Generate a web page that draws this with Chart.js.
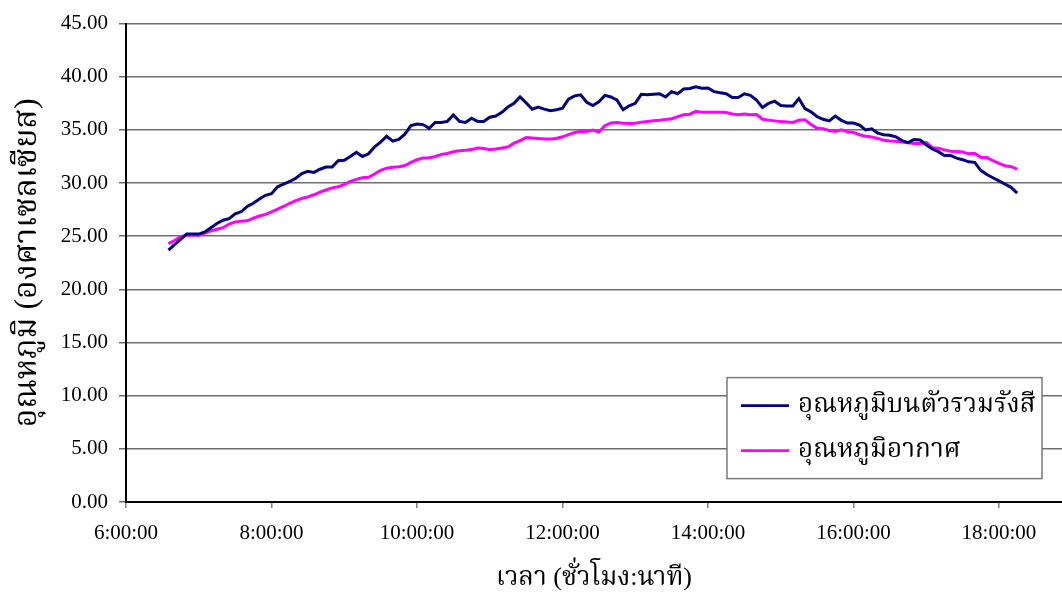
<!DOCTYPE html>
<html>
<head>
<meta charset="utf-8">
<script src="https://cdn.jsdelivr.net/npm/chart.js@4.4.1/dist/chart.umd.min.js"></script>
<style>
  html, body { margin: 0; padding: 0; background: #ffffff; }
  #wrap { width: 1062px; height: 594px; position: relative; }
</style>
</head>
<body>
<div id="wrap"><canvas id="c" width="1062" height="594"></canvas></div>
<script>
// Logged readings, every 5 minutes
const times = [
  '6:35','6:40','6:45','6:50','6:55',
  '7:00','7:05','7:10','7:15','7:20','7:25','7:30','7:35','7:40','7:45','7:50','7:55',
  '8:00','8:05','8:10','8:15','8:20','8:25','8:30','8:35','8:40','8:45','8:50','8:55',
  '9:00','9:05','9:10','9:15','9:20','9:25','9:30','9:35','9:40','9:45','9:50','9:55',
  '10:00','10:05','10:10','10:15','10:20','10:25','10:30','10:35','10:40','10:45','10:50','10:55',
  '11:00','11:05','11:10','11:15','11:20','11:25','11:30','11:35','11:40','11:45','11:50','11:55',
  '12:00','12:05','12:10','12:15','12:20','12:25','12:30','12:35','12:40','12:45','12:50','12:55',
  '13:00','13:05','13:10','13:15','13:20','13:25','13:30','13:35','13:40','13:45','13:50','13:55',
  '14:00','14:05','14:10','14:15','14:20','14:25','14:30','14:35','14:40','14:45','14:50','14:55',
  '15:00','15:05','15:10','15:15','15:20','15:25','15:30','15:35','15:40','15:45','15:50','15:55',
  '16:00','16:05','16:10','16:15','16:20','16:25','16:30','16:35','16:40','16:45','16:50','16:55',
  '17:00','17:05','17:10','17:15','17:20','17:25','17:30','17:35','17:40','17:45','17:50','17:55',
  '18:00','18:05','18:10','18:15'
];

// Temperature on the radiation collector (°C)
const collectorTemp = [
  23.7, 24.2, 24.7, 25.2, 25.2,
  25.2, 25.4, 25.8, 26.2, 26.5, 26.65, 27.1, 27.3, 27.8, 28.1, 28.5, 28.85,
  29.0, 29.65, 29.9, 30.15, 30.45, 30.9, 31.1, 31.0, 31.3, 31.5, 31.5, 32.1,
  32.15, 32.5, 32.9, 32.5, 32.75, 33.4, 33.85, 34.4, 33.95, 34.1, 34.6, 35.4,
  35.55, 35.5, 35.15, 35.7, 35.7, 35.8, 36.4, 35.8, 35.7, 36.1, 35.8, 35.8,
  36.2, 36.3, 36.65, 37.15, 37.5, 38.1, 37.55, 36.95, 37.15, 36.95, 36.8, 36.9,
  37.05, 37.9, 38.2, 38.3, 37.6, 37.3, 37.65, 38.25, 38.1, 37.8, 36.9, 37.27,
  37.5, 38.35, 38.3, 38.35, 38.4, 38.1, 38.6, 38.4, 38.85, 38.9, 39.05, 38.93,
  38.95, 38.6, 38.5, 38.4, 38.05, 38.05, 38.4, 38.25, 37.8, 37.1, 37.5, 37.7,
  37.3, 37.25, 37.25, 37.95, 37.0, 36.7, 36.25, 36.0, 35.85, 36.3, 35.9, 35.65,
  35.65, 35.45, 35.0, 35.1, 34.7, 34.55, 34.5, 34.35, 34.0, 33.8, 34.1, 34.05,
  33.6, 33.2, 32.95, 32.6, 32.6, 32.35, 32.2, 32.0, 31.95, 31.2, 30.8, 30.5,
  30.2, 29.9, 29.6, 29.06
];

// Ambient air temperature (°C)
const airTemp = [
  24.3, 24.6, 24.95, 25.1, 25.1,
  25.1, 25.3, 25.5, 25.65, 25.8, 26.15, 26.35, 26.4, 26.45, 26.7, 26.9, 27.05,
  27.3, 27.55, 27.8, 28.1, 28.35, 28.55, 28.7, 28.9, 29.15, 29.35, 29.55, 29.65,
  29.85, 30.15, 30.35, 30.5, 30.55, 30.85, 31.2, 31.4, 31.48, 31.53, 31.65, 31.95,
  32.2, 32.35, 32.38, 32.5, 32.7, 32.78, 32.95, 33.05, 33.08, 33.15, 33.3, 33.25,
  33.13, 33.2, 33.3, 33.4, 33.75, 34.0, 34.28, 34.23, 34.2, 34.15, 34.15, 34.2,
  34.35, 34.55, 34.75, 34.85, 34.86, 34.98, 34.8, 35.4, 35.65, 35.7, 35.62, 35.6,
  35.62, 35.73, 35.8, 35.86, 35.9, 35.97, 36.05, 36.25, 36.43, 36.48, 36.75, 36.65,
  36.65, 36.65, 36.65, 36.63, 36.5, 36.42, 36.5, 36.42, 36.45, 36.0, 35.92, 35.85,
  35.78, 35.74, 35.7, 35.9, 35.95, 35.5, 35.15, 35.1, 34.95, 34.85, 35.0, 34.83,
  34.76, 34.55, 34.4, 34.33, 34.2, 34.02, 33.96, 33.93, 33.86, 33.8, 33.73, 33.73,
  33.8, 33.33, 33.27, 33.12, 33.0, 32.97, 32.92, 32.75, 32.8, 32.4, 32.4, 32.1,
  31.85, 31.62, 31.54, 31.32
];

const seriesNames = ['อุณหภูมิบนตัวรวมรังสี', 'อุณหภูมิอากาศ'];
const seriesColors = ['#000080', '#FF00FF'];
const xAxisTitle = 'เวลา (ชั่วโมง:นาที)';
const yAxisTitle = 'อุณหภูมิ (องศาเซลเซียส)';

// Axis ranges (minutes after midnight on x, °C on y)
const xStartMin = 360, xEndMin = 1132, xStepMin = 120;
const yMin = 0, yMax = 45, yStep = 5;

const SERIF = "'Liberation Serif', 'Times New Roman', serif";
const THAI = "'Liberation Serif', 'Noto Serif Thai', 'Noto Sans Thai', serif";

function toMinutes(t) {
  const [h, m] = t.split(':').map(Number);
  return h * 60 + m;
}
function clockLabel(min) {
  const h = Math.floor(min / 60);
  const m = Math.round(min % 60);
  return h + ':' + String(m).padStart(2, '0') + ':00';
}

const boxLegend = {
  id: 'boxLegend',
  afterDraw(chart) {
    const { ctx, chartArea } = chart;
    const w = 315, h = 101;
    const x = chartArea.right - 335;
    const y = chartArea.top + 354;
    ctx.save();
    ctx.fillStyle = '#ffffff';
    ctx.fillRect(x, y, w, h);
    ctx.strokeStyle = '#7a7a7a';
    ctx.lineWidth = 1.5;
    ctx.strokeRect(x, y, w, h);
    ctx.font = '26px ' + THAI;
    ctx.textBaseline = 'middle';
    ctx.textAlign = 'left';
    chart.data.datasets.forEach((ds, i) => {
      const cy = y + 28 + i * 45;
      ctx.strokeStyle = ds.borderColor;
      ctx.lineWidth = 2.6;
      ctx.beginPath();
      ctx.moveTo(x + 14, cy);
      ctx.lineTo(x + 62, cy);
      ctx.stroke();
      ctx.fillStyle = '#000000';
      ctx.fillText(ds.label, x + 71, cy);
    });
    ctx.restore();
  }
};

new Chart(document.getElementById('c'), {
  type: 'line',
  data: {
    datasets: [
      {
        label: seriesNames[0],
        data: times.map((t, i) => ({ x: toMinutes(t), y: collectorTemp[i] })),
        borderColor: seriesColors[0],
        backgroundColor: seriesColors[0],
        borderWidth: 3,
        pointRadius: 0,
        tension: 0
      },
      {
        label: seriesNames[1],
        data: times.map((t, i) => ({ x: toMinutes(t), y: airTemp[i] })),
        borderColor: seriesColors[1],
        backgroundColor: seriesColors[1],
        borderWidth: 3,
        pointRadius: 0,
        tension: 0
      }
    ]
  },
  options: {
    responsive: false,
    animation: false,
    devicePixelRatio: 1,
    layout: { padding: { top: 21, left: 0, right: 0, bottom: 0 } },
    plugins: {
      legend: { display: false },
      tooltip: { enabled: false }
    },
    scales: {
      x: {
        type: 'linear',
        min: xStartMin,
        max: xEndMin,
        afterFit(scale) { scale.height = 92; },
        afterBuildTicks(scale) {
          scale.ticks = scale.ticks.filter(t => (t.value - xStartMin) % xStepMin === 0);
        },
        ticks: {
          stepSize: xStepMin,
          includeBounds: false,
          autoSkip: false,
          maxRotation: 0,
          padding: 13,
          color: '#000000',
          font: { family: SERIF, size: 21 },
          callback: (v) => clockLabel(v)
        },
        grid: {
          drawOnChartArea: false,
          drawTicks: true,
          tickLength: 6,
          color: '#808080',
          lineWidth: 1.5
        },
        border: { display: true, color: '#000000', width: 2 },
        title: {
          display: true,
          text: xAxisTitle,
          color: '#000000',
          font: { family: THAI, size: 26 },
          padding: { top: 0, bottom: 0 }
        }
      },
      y: {
        min: yMin,
        max: yMax,
        afterFit(scale) { scale.width = 126; },
        ticks: {
          stepSize: yStep,
          padding: 11,
          color: '#000000',
          font: { family: SERIF, size: 21 },
          callback: (v) => Number(v).toFixed(2)
        },
        grid: {
          color: '#6e6e6e',
          lineWidth: 1.5,
          tickLength: 7
        },
        border: { display: true, color: '#000000', width: 2 },
        title: {
          display: true,
          text: yAxisTitle,
          color: '#000000',
          font: { family: THAI, size: 32 },
          padding: { top: 8, bottom: 0 }
        }
      }
    }
  },
  plugins: [boxLegend]
});
</script>
</body>
</html>
